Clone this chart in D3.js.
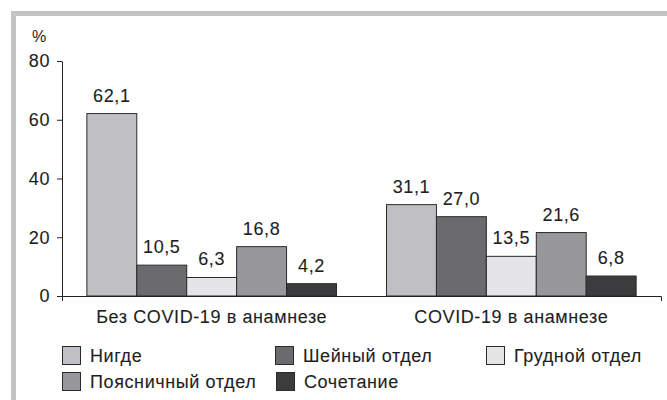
<!DOCTYPE html>
<html lang="ru">
<head>
<meta charset="utf-8">
<script src="https://cdn.jsdelivr.net/npm/d3@7/dist/d3.min.js"></script>
<style>
  body { margin: 0; background: #fff; }
  text { font-family: "Liberation Sans", Arial, sans-serif; font-size: 18px; fill: #1e1e1e; stroke: #1e1e1e; stroke-width: 0.1px; letter-spacing: 0.6px; }
</style>
</head>
<body>
<script>
// data
var groups = ["Без COVID-19 в анамнезе", "COVID-19 в анамнезе"];
var series = ["Нигде", "Шейный отдел", "Грудной отдел", "Поясничный отдел", "Сочетание"];
var colors = ["#c0c0c4", "#6b6b6f", "#e5e5e7", "#98989c", "#3c3c3e"];
var noCovid = [62.1, 10.5, 6.3, 16.8, 4.2];
var covid = [31.1, 27.0, 13.5, 21.6, 6.8];
var yTicks = [0, 20, 40, 60, 80];

var values = [noCovid, covid];

var width = 667, height = 400;
var svg = d3.select("body").append("svg")
  .attr("width", width)
  .attr("height", height);

// grey frame (open on right and bottom)
svg.append("path")
  .attr("d", "M13.5,400 V13.5 H667")
  .attr("fill", "none")
  .attr("stroke", "#c4c4c4")
  .attr("stroke-width", 5);

var x0 = d3.scaleBand().domain(groups).range([62, 661])
  .paddingInner(0.167).paddingOuter(0.083);
var x1 = d3.scaleBand().domain(series).range([0, x0.bandwidth()]);
var y = d3.scaleLinear().domain([0, 80]).range([296, 61]);

// bars
var g = svg.selectAll("g.grp")
  .data(groups)
  .enter().append("g")
  .attr("class", "grp")
  .attr("transform", function(d) { return "translate(" + x0(d) + ",0)"; });

g.selectAll("rect")
  .data(function(d, i) { return values[i].map(function(v, j) { return {s: series[j], v: v, c: colors[j]}; }); })
  .enter().append("rect")
  .attr("x", function(d) { return x1(d.s); })
  .attr("y", function(d) { return y(d.v); })
  .attr("width", x1.bandwidth())
  .attr("height", function(d) { return y(0) - y(d.v); })
  .attr("fill", function(d) { return d.c; })
  .attr("stroke", "#2a2a2a")
  .attr("stroke-width", 1);

g.selectAll("text.val")
  .data(function(d, i) { return values[i].map(function(v, j) { return {s: series[j], v: v}; }); })
  .enter().append("text")
  .attr("class", "val")
  .attr("x", function(d) { return x1(d.s) + x1.bandwidth() / 2; })
  .attr("y", function(d) { return y(d.v) - 12; })
  .attr("text-anchor", "middle")
  .text(function(d) { return d.v.toFixed(1).replace(".", ","); });

// axes
svg.append("g")
  .attr("transform", "translate(62,0)")
  .call(d3.axisLeft(y).tickValues(yTicks).tickSize(5).tickSizeOuter(0).tickPadding(7));

svg.append("g")
  .attr("transform", "translate(0," + y(0) + ")")
  .call(d3.axisBottom(x0).tickSizeInner(0).tickSizeOuter(5).tickPadding(14));

svg.selectAll(".domain, .tick line").attr("stroke", "#222");
svg.selectAll(".tick text").style("font-size", "18px").style("font-family", null).attr("fill", "#1e1e1e");

svg.append("text").attr("x", 32).attr("y", 42).style("font-size", "16px").style("stroke-width", "0").text("%");

// legend
var legendPos = [[62, 346], [275, 346], [486, 346], [62, 372], [276, 372]];
var lg = svg.selectAll("g.leg")
  .data(series)
  .enter().append("g")
  .attr("class", "leg")
  .attr("transform", function(d, i) { return "translate(" + legendPos[i][0] + "," + legendPos[i][1] + ")"; });
lg.append("rect")
  .attr("x", 0.5).attr("y", 0.5)
  .attr("width", 18).attr("height", 18)
  .attr("fill", function(d, i) { return colors[i]; })
  .attr("stroke", "#2a2a2a");
lg.append("text")
  .attr("x", 28).attr("y", 16)
  .text(function(d) { return d; });
</script>
</body>
</html>
